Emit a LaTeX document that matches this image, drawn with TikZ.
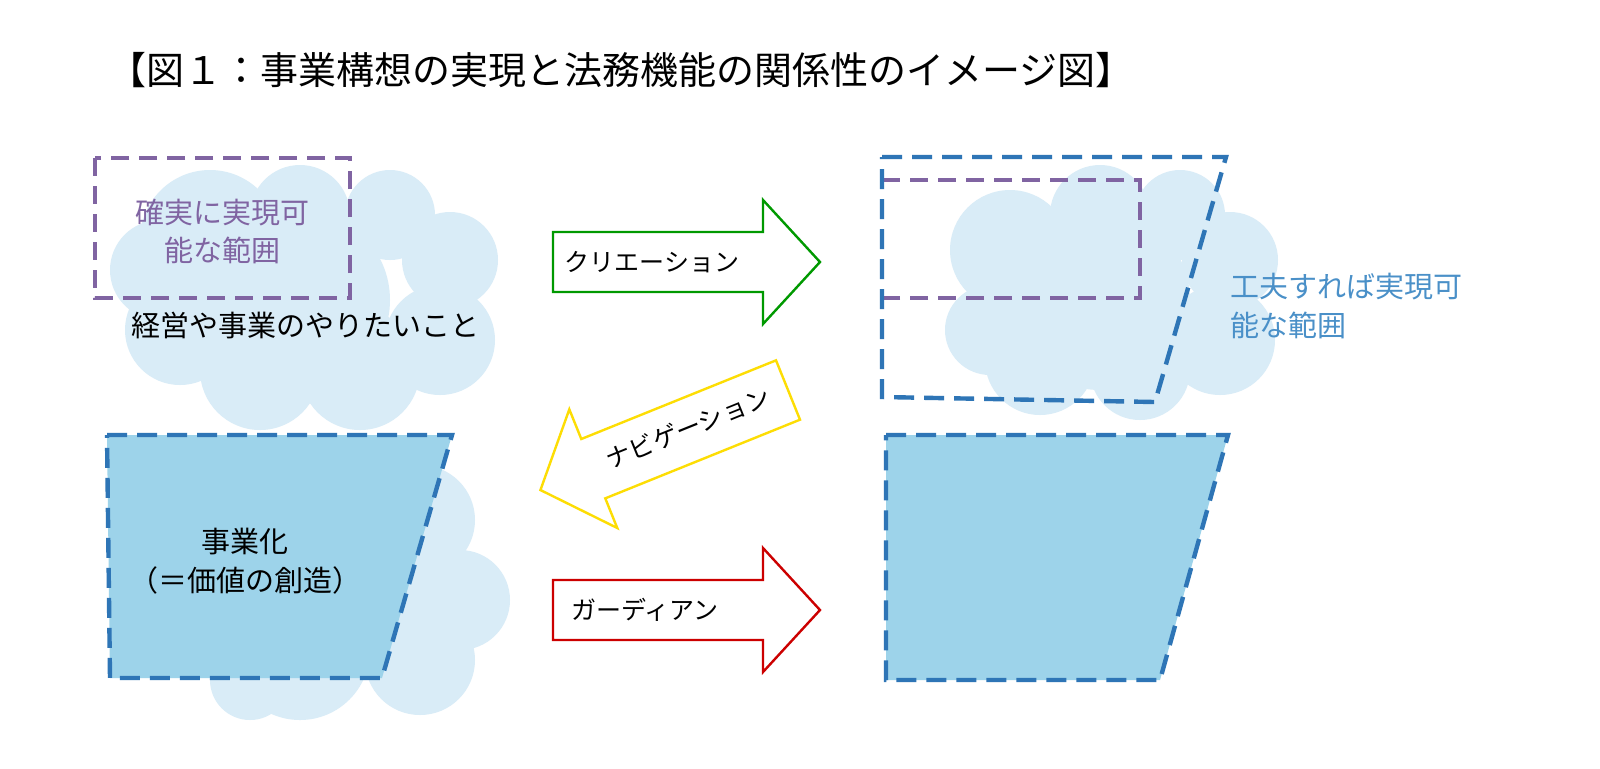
\documentclass[tikz,border=0pt]{standalone}
\usepackage{fontspec}
\setmainfont{Noto Sans CJK JP}
\begin{document}
\begin{tikzpicture}[x=0.5pt,y=-0.5pt,
  cloudfill/.style={fill=cloudc},
  purpdash/.style={draw=purp,dash pattern=on 9pt off 5pt,line width=1.6pt},
  bluedash/.style={draw=blued,dash pattern=on 10pt off 5pt,line width=2.2pt},
  arr/.style={line width=1.2pt,fill=white},
  lbl/.style={font=\fontsize{14.5}{17}\selectfont,inner sep=0pt},
  albl/.style={font=\fontsize{12.5}{15}\selectfont,inner sep=0pt}]
\definecolor{cloudc}{HTML}{D9ECF7}
\definecolor{purp}{HTML}{8064A2}
\definecolor{blued}{HTML}{2E75B6}
\definecolor{bluefill}{HTML}{9DD3EA}
\definecolor{bluetext}{HTML}{4A90C8}
\useasboundingbox (0,0) rectangle (1600,768);
\fill[white] (0,0) rectangle (1600,768);
\node[font=\fontsize{19}{22}\selectfont,anchor=west,inner sep=0pt] (title) at (108,70) {【図１：事業構想の実現と法務機能の関係性のイメージ図】};
% clouds
\begin{scope}[cloudfill]
\fill (210,240) circle (70); \fill (300,215) circle (50); \fill (390,215) circle (45);
\fill (450,260) circle (48); \fill (440,340) circle (55); \fill (360,370) circle (60);
\fill (260,370) circle (60); \fill (180,330) circle (55); \fill (300,300) circle (90);
\fill (160,270) circle (50);
\fill (300,650) circle (70); \fill (420,520) circle (55); \fill (460,600) circle (50);
\fill (420,660) circle (55); \fill (360,600) circle (80); \fill (250,680) circle (40);
\fill (1010,250) circle (60); \fill (1100,215) circle (50); \fill (1180,215) circle (45);
\fill (1230,260) circle (48); \fill (1220,340) circle (55); \fill (1140,370) circle (50);
\fill (1040,360) circle (55); \fill (990,330) circle (45); \fill (1100,300) circle (90);
\end{scope}
% left top
\draw[purpdash] (95,158) rectangle (350,298);
\node[lbl,text=purp] (t1) at (222,213) {確実に実現可};
\node[lbl,text=purp] (t2) at (222,250) {能な範囲};
\node[lbl] (t3) at (305,325) {経営や事業のやりたいこと};
% left bottom
\draw[bluedash,fill=bluefill] (107,435) -- (452,435) -- (382,678) -- (110,678) -- cycle;
\node[lbl] (t4) at (245,541) {事業化};
\node[lbl] (t5) at (245,580) {（＝価値の創造）};
% arrows
\begin{scope}[shift={(553,262)}]
\draw[arr,draw=green!60!black] (0,-30) -- (210,-30) -- (210,-62) -- (267,0) -- (210,62) -- (210,30) -- (0,30) -- cycle;
\end{scope}
\node[albl] (c1) at (652,262) {クリエーション};
\begin{scope}[shift={(788,390)},rotate=202]
\draw[arr,draw=yellow!80!orange] (0,-32) -- (210,-32) -- (210,-64) -- (267,0) -- (210,64) -- (210,32) -- (0,32) -- cycle;
\end{scope}
\node[albl,rotate=22] (c2) at (688,428) {ナビゲーション};
\begin{scope}[shift={(553,610)}]
\draw[arr,draw=red!80!black] (0,-30) -- (210,-30) -- (210,-62) -- (267,0) -- (210,62) -- (210,30) -- (0,30) -- cycle;
\end{scope}
\node[albl] (c3) at (645,610) {ガーディアン};
% right top
\draw[purpdash] (882,180) -- (1140,180) -- (1140,298) -- (882,298);
\draw[bluedash] (882,157) -- (1226,157) -- (1155,402) -- (882,397) -- cycle;
\node[lbl,text=bluetext,anchor=west] (t6) at (1230,287) {工夫すれば実現可};
\node[lbl,text=bluetext,anchor=west] (t7) at (1230,325) {能な範囲};
% right bottom
\draw[bluedash,fill=bluefill] (886,435) -- (1228,435) -- (1160,680) -- (886,680) -- cycle;
\end{tikzpicture}
\end{document}
